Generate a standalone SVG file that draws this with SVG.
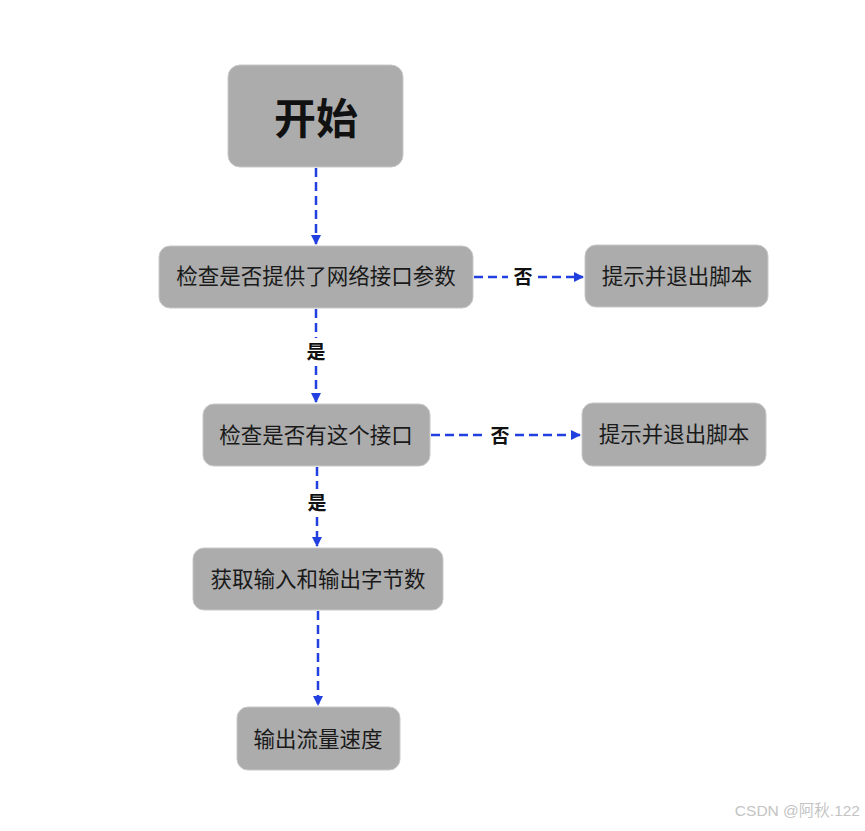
<svg xmlns="http://www.w3.org/2000/svg" width="865" height="831" viewBox="0 0 865 831">
<defs>
<style>
.box{fill:#acacac;stroke:#c8c8c8;stroke-width:1}
.t{font-family:"Liberation Sans","Noto Sans CJK SC",sans-serif;font-size:21.5px;fill:#1a1a1a;text-anchor:middle;dominant-baseline:central}
.lbl{font-family:"Liberation Sans","Noto Sans CJK SC",sans-serif;font-size:19px;font-weight:bold;fill:#111;text-anchor:middle;dominant-baseline:central}
.e{stroke:#2240e0;stroke-width:2.5;fill:none;stroke-dasharray:9 5}
</style>
<marker id="ah" markerWidth="10" markerHeight="10" refX="9" refY="5" orient="auto" markerUnits="userSpaceOnUse">
<path d="M0,0 L10,5 L0,10 z" fill="#2240e0"/>
</marker>
</defs>
<rect width="865" height="831" fill="#ffffff"/>
<g id="connectors">
<line class="e" x1="316" y1="168" x2="316" y2="244" marker-end="url(#ah)"/>
<line class="e" x1="474" y1="277" x2="508" y2="277"/>
<line class="e" x1="538" y1="277" x2="583" y2="277" marker-end="url(#ah)"/>
<text class="lbl" x="523" y="277">否</text>
<line class="e" x1="316" y1="309" x2="316" y2="338"/>
<line class="e" x1="316" y1="366" x2="316" y2="402" marker-end="url(#ah)"/>
<text class="lbl" x="316" y="352">是</text>
<line class="e" x1="431" y1="435" x2="485" y2="435"/>
<line class="e" x1="515" y1="435" x2="580" y2="435" marker-end="url(#ah)"/>
<text class="lbl" x="500" y="436">否</text>
<line class="e" x1="317" y1="467" x2="317" y2="489"/>
<line class="e" x1="317" y1="517" x2="317" y2="546" marker-end="url(#ah)"/>
<text class="lbl" x="317" y="503">是</text>
<line class="e" x1="318" y1="611" x2="318" y2="705" marker-end="url(#ah)"/>
</g>
<g id="start">
<rect class="box" x="228" y="65" width="175" height="102" rx="12"/>
<text class="t" x="316" y="119" style="font-size:42px;font-weight:bold;fill:#111">开始</text>
</g>
<g id="check-param">
<rect class="box" x="159" y="246" width="314" height="62" rx="11"/>
<text class="t" x="316" y="277">检查是否提供了网络接口参数</text>
</g>
<g id="exit1">
<rect class="box" x="585" y="245" width="183" height="62" rx="11"/>
<text class="t" x="677" y="277">提示并退出脚本</text>
</g>
<g id="check-iface">
<rect class="box" x="203" y="404" width="227" height="62" rx="11"/>
<text class="t" x="316" y="436">检查是否有这个接口</text>
</g>
<g id="exit2">
<rect class="box" x="582" y="403" width="184" height="63" rx="11"/>
<text class="t" x="674" y="435">提示并退出脚本</text>
</g>
<g id="get-bytes">
<rect class="box" x="193" y="548" width="250" height="62" rx="11"/>
<text class="t" x="318" y="580">获取输入和输出字节数</text>
</g>
<g id="output-speed">
<rect class="box" x="237" y="707" width="163" height="63" rx="11"/>
<text class="t" x="318" y="740">输出流量速度</text>
</g>
<text x="860" y="816" style="font-family:'Liberation Sans','Noto Sans CJK SC',sans-serif;font-size:15.5px;fill:#c4c4c4;text-anchor:end">CSDN @阿秋.122</text>
</svg>
